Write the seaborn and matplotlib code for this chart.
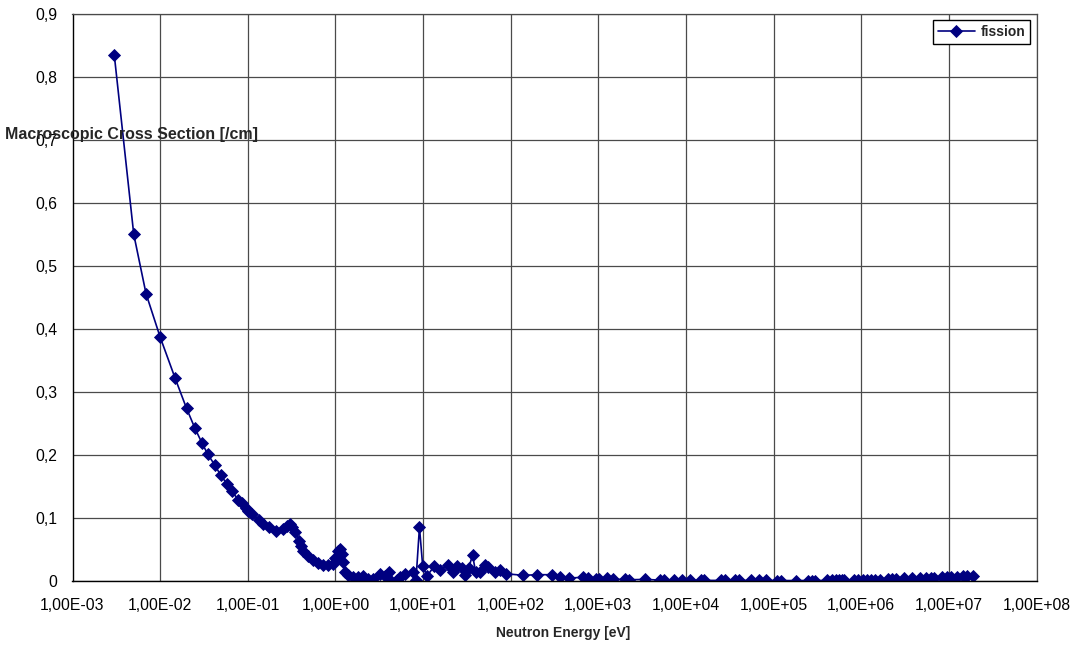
import matplotlib
matplotlib.use("Agg")
import matplotlib.pyplot as plt
import matplotlib.ticker as mticker
import pandas as pd
import seaborn as sns

# Macroscopic fission cross section vs. neutron energy
energy_ev = [
    3.0e-3, 5.0e-3, 6.9e-3, 1.0e-2, 1.48e-2, 2.0e-2, 2.5e-2, 3.0e-2, 3.5e-2, 4.2e-2,
    4.9e-2, 5.8e-2, 6.6e-2, 7.8e-2, 8.5e-2, 9.5e-2, 1.0e-1, 1.13e-1, 1.35e-1, 1.5e-1,
    1.75e-1, 2.1e-1, 2.5e-1, 2.8e-1, 3.0e-1, 3.2e-1, 3.5e-1, 3.85e-1, 4.0e-1, 4.3e-1,
    4.9e-1, 5.6e-1, 6.4e-1, 7.3e-1, 8.3e-1, 9.3e-1, 1.0, 1.06, 1.13, 1.18,
    1.23, 1.29, 1.41, 1.6, 1.82, 2.08, 2.37, 2.66, 3.26, 3.67,
    4.06, 4.17, 5.0, 5.5, 6.3, 7.6, 8.3, 9.1, 9.9, 11.1,
    13.5, 15.7, 19.1, 22.1, 24.5, 27.5, 30.2, 33.1, 36.7, 39.8,
    44.7, 51.3, 55.6, 66.0, 76.0, 89.0, 138.0, 200.0, 295.0, 363.0,
    457.0, 676.0, 759.0, 933.0, 1.02e3, 1.26e3, 1.48e3, 2.04e3, 2.24e3, 3.39e3,
    5.0e3, 5.6e3, 7.4e3, 9.1e3, 1.12e4, 1.48e4, 1.62e4, 2.5e4, 2.8e4, 3.6e4,
    4.0e4, 5.5e4, 6.8e4, 8.1e4, 1.1e5, 1.2e5, 1.8e5, 2.5e5, 2.75e5, 3.0e5,
    4.1e5, 4.6e5, 5.1e5, 5.6e5, 6.1e5, 6.3e5, 8.3e5, 9.3e5, 1.05e6, 1.17e6,
    1.3e6, 1.45e6, 1.62e6, 2.0e6, 2.24e6, 2.5e6, 3.1e6, 3.8e6, 4.7e6, 5.5e6,
    6.2e6, 6.8e6, 8.3e6, 9.5e6, 1.05e7, 1.23e7, 1.45e7, 1.62e7, 1.9e7,
]
fission_xs = [
    0.834, 0.550, 0.456, 0.387, 0.322, 0.274, 0.242, 0.219, 0.201, 0.184,
    0.168, 0.154, 0.142, 0.129, 0.124, 0.116, 0.111, 0.106, 0.097, 0.091,
    0.085, 0.080, 0.082, 0.088, 0.090, 0.085, 0.078, 0.064, 0.055, 0.048,
    0.040, 0.034, 0.029, 0.026, 0.025, 0.027, 0.037, 0.048, 0.051, 0.043,
    0.030, 0.014, 0.009, 0.006, 0.006, 0.008, 0.0035, 0.0035, 0.0105, 0.0087,
    0.0145, 0.0008, 0.001, 0.006, 0.0105, 0.0145, 0.001, 0.0855, 0.024, 0.008,
    0.024, 0.017, 0.026, 0.0145, 0.024, 0.020, 0.0095, 0.020, 0.041, 0.0145,
    0.015, 0.026, 0.022, 0.015, 0.017, 0.0115, 0.009, 0.010, 0.010, 0.007,
    0.0045, 0.006, 0.005, 0.003, 0.0025, 0.004, 0.0025, 0.0025, 0.002, 0.0025,
    0.0015, 0.0015, 0.001, 0.001, 0.001, 0.001, 0.001, 0.001, 0.001, 0.0009,
    0.0009, 0.0008, 0.0008, 0.0008, 0.0007, 0.0007, 0.0007, 0.0007, 0.0007, 0.0007,
    0.0008, 0.0008, 0.0008, 0.0008, 0.0008, 0.0009, 0.001, 0.001, 0.001, 0.0012,
    0.0012, 0.0013, 0.002, 0.003, 0.003, 0.003, 0.004, 0.004, 0.004, 0.0045,
    0.0045, 0.0045, 0.006, 0.007, 0.007, 0.007, 0.008, 0.008, 0.008,
]
series_name = "fission"
x_ticks = [1e-3, 1e-2, 1e-1, 1e0, 1e1, 1e2, 1e3, 1e4, 1e5, 1e6, 1e7, 1e8]
y_ticks = [0.0, 0.1, 0.2, 0.3, 0.4, 0.5, 0.6, 0.7, 0.8, 0.9]
x_title = "Neutron Energy [eV]"
y_title = "Macroscopic Cross Section [/cm]"

LINE_COLOR = "#000080"
GRID_COLOR = "#4a4a4a"

sns.set_style("white")
plt.rcParams["font.family"] = ["Liberation Sans", "DejaVu Sans"]

W, H = 1076, 649
fig = plt.figure(figsize=(W / 100, H / 100), dpi=100)
left, right, top, bottom = 72.5, 1036.5, 13.7, 581.0
ax = fig.add_axes([left / W, 1 - bottom / H, (right - left) / W, (bottom - top) / H])

df = pd.DataFrame({"energy": energy_ev, "xs": fission_xs, "series": series_name})
sns.lineplot(
    data=df, x="energy", y="xs", hue="series", palette=[LINE_COLOR],
    marker="D", markersize=6.3, markeredgecolor=LINE_COLOR, markeredgewidth=0.6,
    linewidth=1.2, sort=False, estimator=None, ax=ax,
)

ax.set_xscale("log")
ax.set_xlim(x_ticks[0], x_ticks[-1])
ax.set_ylim(y_ticks[0], y_ticks[-1])
ax.xaxis.set_major_locator(mticker.FixedLocator(x_ticks))
ax.xaxis.set_minor_locator(mticker.NullLocator())
ax.yaxis.set_major_locator(mticker.FixedLocator(y_ticks))
ax.xaxis.set_major_formatter(
    mticker.FuncFormatter(lambda v, _: f"{v:.2E}".replace(".", ","))
)
ax.yaxis.set_major_formatter(
    mticker.FuncFormatter(lambda v, _: "0" if v == 0 else f"{v:.1f}".replace(".", ","))
)
ax.tick_params(axis="both", which="major", direction="out", length=5, width=1,
               color="black", labelsize=11.3, labelcolor="black")
ax.tick_params(axis="x", pad=7)
ax.tick_params(axis="y", pad=6)

ax.grid(True, which="major", color=GRID_COLOR, linewidth=0.9)
ax.set_axisbelow(True)
for side in ("left", "bottom"):
    ax.spines[side].set_color("black")
    ax.spines[side].set_linewidth(1.0)
for side in ("top", "right"):
    ax.spines[side].set_color(GRID_COLOR)
    ax.spines[side].set_linewidth(0.9)

ax.set_xlabel("")
ax.set_ylabel("")
fig.text(563.5 / W, 1 - 633 / H, x_title, ha="center", va="center",
         fontsize=10, fontweight="bold")
fig.text(5 / W, 1 - 134 / H, y_title, ha="left", va="center",
         fontsize=11.5, fontweight="bold")

handles, labels = ax.get_legend_handles_labels()
leg = ax.legend(handles, labels, loc="upper right", frameon=True, fancybox=False,
                framealpha=1, edgecolor="black", borderaxespad=0.45,
                handlelength=2.7, handletextpad=0.4, borderpad=0.35,
                prop={"weight": "bold", "size": 10})
leg.get_frame().set_linewidth(1.0)

fig.savefig("out.png", dpi=100)
